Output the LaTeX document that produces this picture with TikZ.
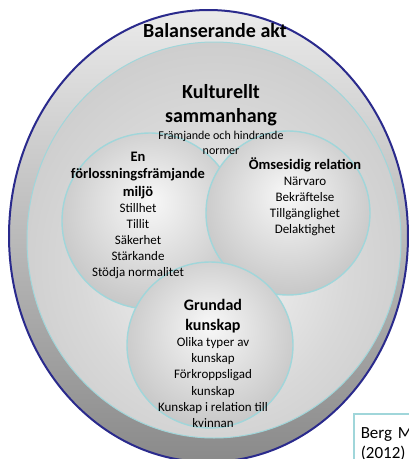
\documentclass[tikz,border=0pt]{standalone}
\usepackage{fontspec}
\setmainfont{Carlito}
\usetikzlibrary{positioning, shapes.geometric}

\definecolor{navyline}{RGB}{42,42,140}
\definecolor{cyanline}{RGB}{160,214,218}
\definecolor{ringtop}{RGB}{234,234,234}
\definecolor{ringbot}{RGB}{138,138,138}
\definecolor{bigmid}{RGB}{246,246,246}
\definecolor{bigedge}{RGB}{180,180,180}
\definecolor{discmid}{RGB}{248,248,248}
\definecolor{discedge}{RGB}{160,160,160}

\pgfdeclareradialshading{bigshade}{\pgfpoint{0bp}{-5bp}}{color(0bp)=(bigmid); color(18bp)=(bigmid!55!bigedge); color(50bp)=(bigedge)}
\pgfdeclareradialshading{discshade}{\pgfpoint{0bp}{6bp}}{color(0bp)=(discmid); color(50bp)=(discedge)}

\begin{document}
\begin{tikzpicture}[
        x=1pt, y=1pt,
        act/.style={
          ellipse, draw=navyline, line width=2pt, inner sep=0pt,
          top color=ringtop, bottom color=ringbot
        },
        context/.style={
          ellipse, draw=cyanline, line width=1pt, inner sep=0pt, shading=bigshade
        },
        disc/.style={
          circle, draw=cyanline, line width=1.4pt, inner sep=0pt,
          minimum size=#1, shading=discshade
        },
        head/.style={
          align=center, inner sep=0pt, font=\bfseries\fontsize{14.5}{17.5}\selectfont
        },
        items/.style={
          align=center, inner sep=0pt, font=\fontsize{13}{16}\selectfont
        },
        source/.style={
          draw=cyanline, line width=1.5pt, fill=white, align=left,
          inner sep=7pt, text width=70pt, minimum height=60pt,
          font=\fontsize{17}{20}\selectfont
        },
      ]
        \useasboundingbox (0,0) rectangle (409,-459);

        % Rings
        \node [act, minimum width=399pt, minimum height=452pt] (balans) at (208.5,-236) {};
        \node [context, minimum width=374pt, minimum height=396pt] (kultur) at (214,-240) {};

        % Circles
        \node [disc=176pt] (miljo) at (150,-221) {};
        \node [disc=164pt] (relation) at (288,-213) {};
        \node [disc=166pt] (kunskap) at (210,-345) {};

        % Texts
        \node [font=\bfseries\fontsize{20}{24}\selectfont, inner sep=0pt] (balanshead) at (215,-31) {Balanserande akt};
        \node [font=\bfseries\fontsize{20}{24}\selectfont, align=center, inner sep=0pt] (kulturhead) at (221,-105) {Kulturellt\\sammanhang};
        \node [align=center, inner sep=0pt, font=\fontsize{12}{15}\selectfont, below=5pt of kulturhead] (kulturitems) {Främjande och hindrande\\normer};

        \node [head] (miljohead) at (138,-175.5) {En\\förlossningsfrämjande\\miljö};
        \node [items, below=4pt of miljohead] (miljoitems) {Stillhet\\Tillit\\Säkerhet\\Stärkande\\Stödja normalitet};

        \node [head] (relationhead) at (305,-165) {Ömsesidig relation};
        \node [items, below=4pt of relationhead] (relationitems) {Närvaro\\Bekräftelse\\Tillgänglighet\\Delaktighet};

        \node [head, font=\bfseries\fontsize{16}{20}\selectfont] (kunskaphead) at (213,-316) {Grundad\\kunskap};
        \node [items, font=\fontsize{13}{16.3}\selectfont, below=4pt of kunskaphead] (kunskapitems) {Olika typer av\\kunskap\\Förkroppsligad\\kunskap\\Kunskap i relation till\\kvinnan};

        %source
        \node [source, anchor=north west] (berg) at (353,-413) {Berg M\\(2012)};

      \end{tikzpicture}
\end{document}
